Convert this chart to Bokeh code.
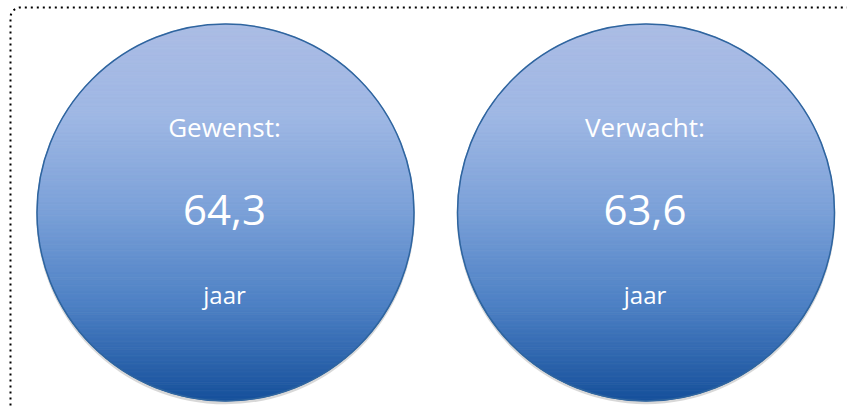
import numpy as np
from bokeh.plotting import figure
from bokeh.models import Range1d
from bokeh.core.properties import value
from bokeh.embed import file_html
from bokeh.resources import INLINE

# ---- data ----
labels = ["Gewenst:", "Verwacht:"]
values = [64.3, 63.6]
units = ["jaar", "jaar"]

# ---- layout / style ----
W, H = 847, 409
R = 188.5
CX0 = 225.0
GAP = 420.5
CY = 212.0
cxs = [CX0 + i * GAP for i in range(len(labels))]

stops = [(0.0, (171, 188, 228)), (0.25, (158, 183, 228)), (0.5, (122, 160, 216)),
         (0.75, (76, 128, 196)), (1.0, (22, 80, 155))]


def grad_color(t):
    for (t0, c0), (t1, c1) in zip(stops[:-1], stops[1:]):
        if t <= t1:
            f = (t - t0) / (t1 - t0)
            c = [int(round(a + (b - a) * f)) for a, b in zip(c0, c1)]
            return "#%02x%02x%02x" % tuple(c)
    return "#%02x%02x%02x" % stops[-1][1]


p = figure(width=W, height=H, x_range=Range1d(0, W), y_range=Range1d(H, 0),
           x_axis_type=None, y_axis_type=None, toolbar_location=None,
           output_backend="svg", min_border=0)
p.outline_line_color = None
p.background_fill_color = "white"
p.border_fill_color = "white"

# dotted rounded border (top-left part visible)
r = 10
bx, by = 10, 7
th = np.linspace(np.pi, 1.5 * np.pi, 12)
bxs = [bx, bx] + list(bx + r + r * np.cos(th)) + [W + 20]
bys = [H + 20, by + r] + list(by + r + r * np.sin(th)) + [by]
p.line(bxs, bys, line_color="black", line_width=2, line_dash="2 4")

n = 140
for cx in cxs:
    # soft shadow
    p.circle(x=[cx], y=[CY + 2.5], radius=R + 0.8, fill_color="#b8b8b8",
             fill_alpha=0.55, line_color=None)
    xs, ys, cols = [], [], []
    edges = np.linspace(CY - R, CY + R, n + 1)
    for k in range(n):
        ya, yb = edges[k], edges[k + 1]
        yy = np.linspace(ya, yb, 4)
        half = np.sqrt(np.clip(R ** 2 - (yy - CY) ** 2, 0, None))
        px = list(cx + half) + list((cx - half)[::-1])
        py = list(yy) + list(yy[::-1])
        xs.append(px)
        ys.append(py)
        cols.append(grad_color((k + 0.5) / n))
    p.patches(xs, ys, fill_color=cols, line_color=cols, line_width=0.8)
    p.circle(x=[cx], y=[CY], radius=R, fill_color=None,
             line_color="#2f659f", line_width=1.5)

font = value("Open Sans")
tx = [c - 1 for c in cxs]
p.text(x=tx, y=[126] * len(cxs), text=labels, text_font=font,
       text_font_size="26px", text_color="white", text_align="center",
       text_baseline="alphabetic")
p.text(x=tx, y=[209] * len(cxs), text=[f"{v:.1f}".replace(".", ",") for v in values],
       text_font=font, text_font_size="42px", text_color="white",
       text_align="center", text_baseline="alphabetic")
p.text(x=tx, y=[294] * len(cxs), text=units, text_font=font,
       text_font_size="24px", text_color="white", text_align="center",
       text_baseline="alphabetic")

open("out.html", "w").write(file_html(p, INLINE))
